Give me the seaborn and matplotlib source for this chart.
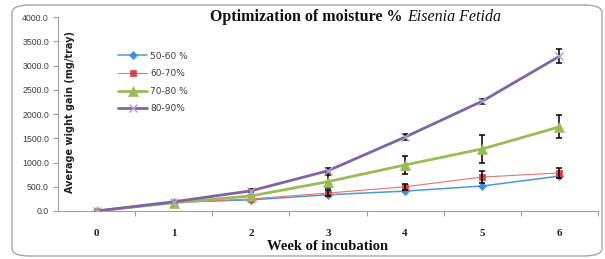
import numpy as np
import pandas as pd
import matplotlib
matplotlib.use("Agg")
import matplotlib.pyplot as plt
from matplotlib.patches import FancyBboxPatch
from matplotlib.ticker import MultipleLocator, FixedLocator
import seaborn as sns

# data
weeks = [0, 1, 2, 3, 4, 5, 6]
series_names = ["50-60 %", "60-70%", "70-80 %", "80-90%"]
gain_50_60 = [0, 180, 230, 335, 410, 515, 720]
gain_60_70 = [0, 170, 250, 370, 500, 700, 785]
gain_70_80 = [0, 170, 310, 605, 950, 1280, 1735]
gain_80_90 = [0, 190, 415, 830, 1525, 2265, 3190]
err_50_60 = [0, 0, 0, 0, 0, 0, 0]
err_60_70 = [0, 0, 0, 60, 60, 120, 100]
err_70_80 = [0, 0, 30, 140, 190, 280, 240]
err_80_90 = [0, 0, 30, 50, 60, 50, 145]
y_ticks = [0, 500, 1000, 1500, 2000, 2500, 3000, 3500, 4000]

gains = [gain_50_60, gain_60_70, gain_70_80, gain_80_90]
errs = [err_50_60, err_60_70, err_70_80, err_80_90]

df = pd.DataFrame({
    "week": weeks * 4,
    "gain": sum(gains, []),
    "err": sum(errs, []),
    "moisture": np.repeat(series_names, len(weeks)),
})

colors = ["#4A98DA", "#E8736F", "#9BBB59", "#8064A2"]
widths = [1.1, 0.8, 2.0, 2.0]
markers = ["D", "s", "^", "x"]
msizes = [4, 4, 7.5, 6]
mcolors = ["#3F8ED6", "#D84440", "#9BBB59", "#B0A0C8"]

sns.set_style("white")
fig = plt.figure(figsize=(6.05, 2.59), dpi=100)
ax = fig.add_axes([58 / 605, 48 / 259, 540 / 605, 194 / 259])

# rounded frame around the chart
frame = FancyBboxPatch((12 / 605, 3 / 259), 590 / 605, 251 / 259,
                       boxstyle="round,pad=0,rounding_size=0.03",
                       transform=fig.transFigure, fill=False,
                       edgecolor="#A6A6A6", linewidth=1.0, zorder=0)
fig.patches.append(frame)

for i, name in enumerate(series_names):
    sub = df[df["moisture"] == name]
    nz = sub[sub["err"] > 0]
    ax.errorbar(nz["week"], nz["gain"], yerr=nz["err"], fmt="none",
                ecolor="black", elinewidth=1.1, capsize=2.5, capthick=1.1, zorder=5)
    sns.lineplot(data=sub, x="week", y="gain", ax=ax, color=colors[i],
                 linewidth=widths[i], marker=markers[i], markersize=msizes[i],
                 markerfacecolor=mcolors[i], markeredgecolor=mcolors[i],
                 markeredgewidth=1.0 if markers[i] == "x" else 0.5,
                 label=name, zorder=3 + i)

ax.set_xlim(-0.5, 6.5)
ax.set_ylim(0, 4000)
ax.set_xticks(weeks)
ax.xaxis.set_minor_locator(FixedLocator(np.arange(0.5, 6.6, 1)))
ax.set_yticks(y_ticks)
ax.set_yticklabels([f"{v:.1f}" for v in y_ticks])

for s in ["top", "right"]:
    ax.spines[s].set_visible(False)
for s in ["left", "bottom"]:
    ax.spines[s].set_color("#A0A0A0")
    ax.spines[s].set_linewidth(0.8)

ax.tick_params(axis="x", which="major", length=0, pad=13)
ax.tick_params(axis="x", which="minor", bottom=True, length=3.5, color="#A0A0A0", width=0.8)
ax.tick_params(axis="y", left=True, length=3.5, color="#A0A0A0", width=0.8,
               labelsize=6.3, labelcolor="#404040", pad=3)
for lab in ax.get_xticklabels():
    lab.set_fontfamily("Liberation Serif")
    lab.set_fontweight("bold")
    lab.set_fontsize(8)
    lab.set_color("#222222")
for lab in ax.get_yticklabels():
    lab.set_fontfamily("Liberation Sans")

ax.set_xlabel("")
ax.set_ylabel("")
fig.text(328 / 605, 1 - 246 / 259, "Week of incubation", ha="center", va="center",
         fontsize=10.5, fontweight="bold", family="Liberation Serif", color="#111111")
ax.text(0.022, 0.51, "Average wight gain (mg/tray)", transform=ax.transAxes,
        rotation=90, ha="center", va="center", fontsize=7, fontweight="bold",
        family="DejaVu Sans", color="#222222")

fig.text(403 / 605, 1 - 17 / 259, "Optimization of moisture %", ha="right", va="center",
         fontsize=11.5, fontweight="bold", family="Liberation Serif", color="#111111")
fig.text(407 / 605, 1 - 17 / 259, "Eisenia Fetida", ha="left", va="center",
         fontsize=11.5, style="italic", family="Liberation Serif", color="#111111")

leg = ax.legend(loc="upper left", bbox_to_anchor=(0.105, 0.84), frameon=False,
                fontsize=6.5, handlelength=3.2, handletextpad=0.3, labelspacing=0.95,
                borderaxespad=0)
for t in leg.get_texts():
    t.set_color("#404040")

fig.savefig("out.png", dpi=100)
